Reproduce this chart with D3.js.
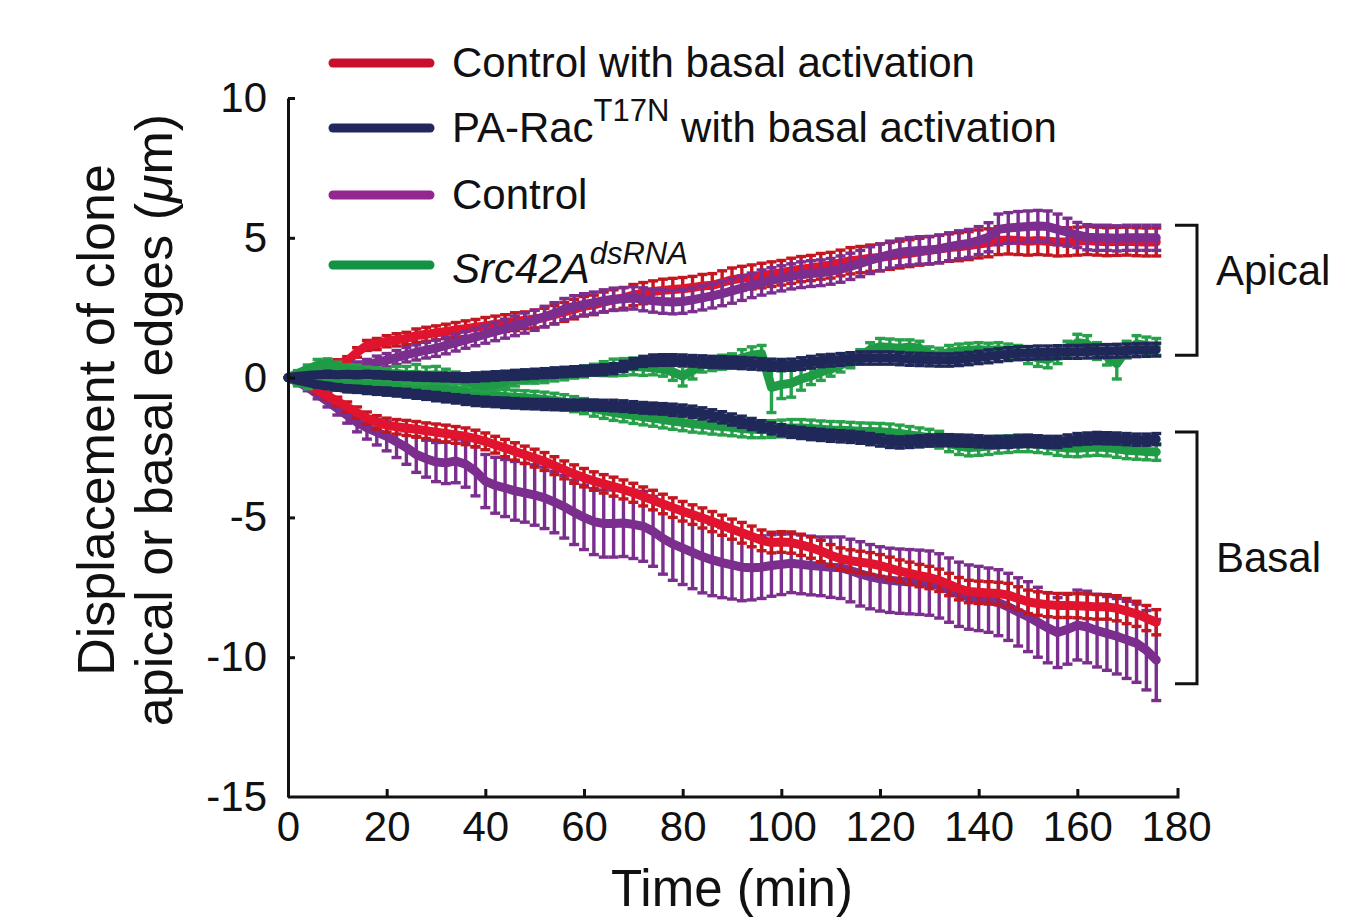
<!DOCTYPE html>
<html>
<head>
<meta charset="utf-8">
<script src="https://cdn.jsdelivr.net/npm/d3@7"></script>
<style>
  body { margin: 0; background: #fff; }
  svg { font-family: "Liberation Sans", Arial, sans-serif; }
</style>
</head>
<body>
<div id="chart"></div>
<script>
// time points (min)
var times = [
  0, 2, 4, 6, 8, 10, 12, 14, 16, 18,
  20, 22, 24, 26, 28, 30, 32, 34, 36, 38,
  40, 42, 44, 46, 48, 50, 52, 54, 56, 58,
  60, 62, 64, 66, 68, 70, 72, 74, 76, 78,
  80, 82, 84, 86, 88, 90, 92, 94, 96, 98,
  100, 102, 104, 106, 108, 110, 112, 114, 116, 118,
  120, 122, 124, 126, 128, 130, 132, 134, 136, 138,
  140, 142, 144, 146, 148, 150, 152, 154, 156, 158,
  160, 162, 164, 166, 168, 170, 172, 174, 176
];

// Control with basal activation
var redApical = [
  0, 0.1, 0.2, 0.3, 0.4, 0.5, 0.6, 0.9, 1.15, 1.2,
  1.3, 1.35, 1.4, 1.5, 1.55, 1.6, 1.65, 1.7, 1.75, 1.8,
  1.85, 1.9, 1.95, 2.0, 2.05, 2.1, 2.15, 2.25, 2.35, 2.45,
  2.55, 2.6, 2.7, 2.78, 2.85, 2.95, 3.02, 3.08, 3.12, 3.15,
  3.18, 3.22, 3.28, 3.3, 3.4, 3.5, 3.55, 3.6, 3.65, 3.7,
  3.75, 3.82, 3.88, 3.92, 3.98, 4.02, 4.1, 4.18, 4.22, 4.27,
  4.3, 4.35, 4.4, 4.45, 4.5, 4.55, 4.6, 4.65, 4.68, 4.72,
  4.78, 4.82, 4.9, 4.92, 4.9, 4.88, 4.9, 4.88, 4.85, 4.86,
  4.88, 4.9, 4.88, 4.86, 4.87, 4.88, 4.86, 4.85, 4.85
];
var redApicalErr = [
  0, 0.05, 0.08, 0.1, 0.12, 0.14, 0.15, 0.17, 0.18, 0.2,
  0.2, 0.22, 0.22, 0.24, 0.25, 0.25, 0.26, 0.27, 0.28, 0.28,
  0.3, 0.3, 0.3, 0.32, 0.3, 0.32, 0.33, 0.33, 0.34, 0.35,
  0.35, 0.35, 0.36, 0.36, 0.37, 0.38, 0.38, 0.38, 0.4, 0.4,
  0.4, 0.4, 0.41, 0.42, 0.42, 0.42, 0.43, 0.43, 0.44, 0.44,
  0.44, 0.45, 0.45, 0.45, 0.46, 0.46, 0.46, 0.47, 0.47, 0.47,
  0.48, 0.48, 0.48, 0.48, 0.48, 0.49, 0.49, 0.49, 0.5, 0.5,
  0.5, 0.5, 0.5, 0.5, 0.5, 0.5, 0.5, 0.5, 0.5, 0.5,
  0.5, 0.5, 0.5, 0.5, 0.5, 0.5, 0.5, 0.5, 0.5
];
var redBasal = [
  0, -0.1, -0.25, -0.45, -0.65, -0.85, -1.05, -1.25, -1.45, -1.6,
  -1.7, -1.76, -1.8, -1.85, -1.9, -1.95, -2.0, -2.05, -2.1, -2.18,
  -2.28, -2.4, -2.52, -2.64, -2.76, -2.88, -3.0, -3.15, -3.3, -3.45,
  -3.58, -3.7, -3.8, -3.9, -4.0, -4.12, -4.25, -4.38, -4.52, -4.65,
  -4.78, -4.9, -5.02, -5.15, -5.28, -5.42, -5.55, -5.68, -5.82, -5.9,
  -5.88, -5.9, -5.98, -6.08, -6.2, -6.35, -6.48, -6.55, -6.6, -6.65,
  -6.72, -6.82, -6.92, -7.0, -7.08, -7.15, -7.25, -7.4, -7.55, -7.65,
  -7.68, -7.7, -7.72, -7.78, -7.9, -8.02, -8.08, -8.12, -8.15, -8.15,
  -8.16, -8.18, -8.2, -8.2, -8.25, -8.35, -8.45, -8.6, -8.75
];
var redBasalErr = [
  0, 0.05, 0.08, 0.1, 0.12, 0.15, 0.18, 0.2, 0.22, 0.24,
  0.25, 0.26, 0.27, 0.28, 0.28, 0.29, 0.3, 0.3, 0.3, 0.3,
  0.3, 0.3, 0.31, 0.31, 0.31, 0.32, 0.32, 0.32, 0.32, 0.33,
  0.33, 0.33, 0.33, 0.34, 0.34, 0.34, 0.34, 0.35, 0.35, 0.35,
  0.35, 0.35, 0.36, 0.36, 0.36, 0.36, 0.37, 0.37, 0.37, 0.37,
  0.37, 0.38, 0.38, 0.38, 0.38, 0.38, 0.39, 0.39, 0.39, 0.39,
  0.39, 0.4, 0.4, 0.4, 0.4, 0.4, 0.4, 0.4, 0.4, 0.4,
  0.4, 0.4, 0.4, 0.42, 0.42, 0.42, 0.42, 0.43, 0.43, 0.43,
  0.43, 0.44, 0.44, 0.44, 0.45, 0.45, 0.45, 0.45, 0.45
];

// PA-Rac T17N with basal activation
var navyApical = [
  0, 0.05, 0.08, 0.1, 0.12, 0.1, 0.12, 0.1, 0.12, 0.1,
  0.08, 0.06, 0.05, 0.04, 0.03, 0.02, 0.02, 0.01, 0.0, 0.02,
  0.04, 0.06, 0.08, 0.1, 0.12, 0.14, 0.16, 0.18, 0.2, 0.22,
  0.24, 0.26, 0.28, 0.32, 0.4, 0.5, 0.58, 0.62, 0.63, 0.63,
  0.62, 0.6, 0.58, 0.56, 0.55, 0.54, 0.52, 0.5, 0.48, 0.46,
  0.45, 0.46, 0.5, 0.55, 0.6, 0.62, 0.65, 0.68, 0.7, 0.7,
  0.7, 0.7, 0.68, 0.66, 0.65, 0.64, 0.63, 0.63, 0.65, 0.68,
  0.72, 0.76, 0.8, 0.84, 0.87, 0.88, 0.9, 0.9, 0.91, 0.92,
  0.92, 0.93, 0.94, 0.95, 0.96, 0.97, 0.98, 0.99, 1.0
];
var navyApicalErr = [
  0, 0.03, 0.05, 0.06, 0.07, 0.08, 0.09, 0.1, 0.1, 0.11,
  0.11, 0.12, 0.12, 0.13, 0.13, 0.13, 0.14, 0.14, 0.14, 0.15,
  0.15, 0.15, 0.15, 0.16, 0.16, 0.16, 0.16, 0.17, 0.17, 0.17,
  0.17, 0.17, 0.18, 0.18, 0.18, 0.18, 0.18, 0.19, 0.19, 0.19,
  0.19, 0.19, 0.2, 0.2, 0.2, 0.2, 0.2, 0.2, 0.2, 0.2,
  0.2, 0.2, 0.21, 0.21, 0.21, 0.21, 0.21, 0.21, 0.22, 0.22,
  0.22, 0.22, 0.22, 0.22, 0.22, 0.22, 0.22, 0.22, 0.22, 0.22,
  0.22, 0.23, 0.23, 0.23, 0.23, 0.23, 0.23, 0.23, 0.23, 0.23,
  0.23, 0.23, 0.23, 0.23, 0.23, 0.23, 0.23, 0.23, 0.23
];
var navyBasal = [
  0, -0.1, -0.18, -0.25, -0.3, -0.35, -0.4, -0.42, -0.45, -0.48,
  -0.5, -0.53, -0.56, -0.6, -0.64, -0.68, -0.72, -0.76, -0.8, -0.84,
  -0.86, -0.88, -0.9, -0.92, -0.94, -0.95, -0.96, -0.97, -0.98, -0.98,
  -0.98, -0.98, -0.99, -1.0, -1.02, -1.05, -1.08, -1.1, -1.12, -1.15,
  -1.18, -1.22, -1.28, -1.35, -1.42, -1.5, -1.58, -1.66, -1.74, -1.82,
  -1.88, -1.94, -1.98, -2.02, -2.05, -2.08, -2.1, -2.12, -2.15, -2.2,
  -2.25, -2.3, -2.32, -2.3, -2.28, -2.25, -2.24, -2.24, -2.25, -2.26,
  -2.28, -2.3, -2.3, -2.3, -2.28, -2.27, -2.28, -2.3, -2.3, -2.25,
  -2.2, -2.18, -2.16, -2.17, -2.18, -2.2, -2.22, -2.22, -2.2
];
var navyBasalErr = [
  0, 0.04, 0.06, 0.08, 0.09, 0.1, 0.11, 0.11, 0.12, 0.12,
  0.13, 0.13, 0.14, 0.14, 0.14, 0.15, 0.15, 0.15, 0.16, 0.16,
  0.16, 0.16, 0.17, 0.17, 0.17, 0.17, 0.18, 0.18, 0.18, 0.18,
  0.18, 0.18, 0.18, 0.19, 0.19, 0.19, 0.19, 0.19, 0.19, 0.2,
  0.2, 0.2, 0.2, 0.2, 0.2, 0.2, 0.2, 0.2, 0.2, 0.2,
  0.2, 0.2, 0.2, 0.2, 0.2, 0.2, 0.2, 0.2, 0.2, 0.2,
  0.2, 0.2, 0.2, 0.2, 0.2, 0.2, 0.2, 0.2, 0.2, 0.2,
  0.2, 0.2, 0.2, 0.2, 0.2, 0.2, 0.2, 0.2, 0.2, 0.2,
  0.2, 0.2, 0.2, 0.2, 0.2, 0.2, 0.2, 0.2, 0.2
];

// Control
var purpleApical = [
  0, 0.05, 0.1, 0.15, 0.2, 0.25, 0.3, 0.38, 0.45, 0.55,
  0.62, 0.72, 0.82, 0.9, 0.98, 1.05, 1.15, 1.25, 1.35, 1.45,
  1.55, 1.65, 1.75, 1.85, 1.95, 2.05, 2.18, 2.3, 2.45, 2.55,
  2.62, 2.68, 2.75, 2.8, 2.82, 2.85, 2.8, 2.75, 2.72, 2.7,
  2.72, 2.78, 2.85, 2.92, 3.0, 3.1, 3.2, 3.3, 3.4, 3.48,
  3.55, 3.62, 3.68, 3.72, 3.75, 3.8, 3.88, 3.98, 4.08, 4.2,
  4.3, 4.4, 4.48, 4.52, 4.55, 4.56, 4.6, 4.68, 4.75, 4.8,
  4.9, 5.02, 5.3, 5.35, 5.38, 5.4, 5.42, 5.4, 5.3, 5.2,
  5.1, 5.02, 5.0, 5.0, 4.98, 5.0, 5.0, 5.0, 5.0
];
var purpleApicalErr = [
  0, 0.05, 0.08, 0.1, 0.12, 0.14, 0.16, 0.18, 0.2, 0.22,
  0.24, 0.25, 0.26, 0.27, 0.28, 0.29, 0.3, 0.3, 0.3, 0.31,
  0.32, 0.33, 0.34, 0.35, 0.36, 0.36, 0.37, 0.38, 0.38, 0.38,
  0.38, 0.38, 0.39, 0.4, 0.4, 0.4, 0.41, 0.41, 0.42, 0.42,
  0.42, 0.42, 0.43, 0.43, 0.43, 0.44, 0.44, 0.44, 0.45, 0.45,
  0.45, 0.45, 0.46, 0.46, 0.46, 0.46, 0.47, 0.47, 0.47, 0.48,
  0.48, 0.48, 0.48, 0.49, 0.49, 0.49, 0.5, 0.5, 0.5, 0.5,
  0.5, 0.52, 0.55, 0.55, 0.56, 0.56, 0.56, 0.56, 0.55, 0.5,
  0.45, 0.45, 0.45, 0.45, 0.45, 0.45, 0.45, 0.45, 0.45
];
var purpleBasal = [
  0, -0.15, -0.35, -0.6, -0.85, -1.1, -1.35, -1.6, -1.8, -1.95,
  -2.1, -2.3, -2.5, -2.75, -2.9, -3.02, -3.05, -2.98, -3.1, -3.35,
  -3.7, -3.85, -3.95, -4.05, -4.12, -4.2, -4.3, -4.45, -4.62, -4.82,
  -5.0, -5.15, -5.22, -5.22, -5.2, -5.25, -5.32, -5.5, -5.75, -5.95,
  -6.1, -6.25, -6.4, -6.52, -6.62, -6.7, -6.78, -6.8, -6.78, -6.72,
  -6.68, -6.64, -6.68, -6.72, -6.75, -6.78, -6.8, -6.9, -7.02, -7.12,
  -7.2, -7.25, -7.28, -7.3, -7.32, -7.35, -7.45, -7.6, -7.75, -7.85,
  -7.9, -7.96, -8.05, -8.2, -8.38, -8.55, -8.75, -8.95, -9.12, -9.0,
  -8.85, -8.92, -9.05, -9.15, -9.25, -9.38, -9.5, -9.75, -10.1
];
var purpleBasalErr = [
  0, 0.08, 0.12, 0.16, 0.2, 0.24, 0.28, 0.34, 0.4, 0.46,
  0.52, 0.56, 0.6, 0.64, 0.66, 0.7, 0.74, 0.78, 0.82, 0.88,
  0.95, 1.0, 1.02, 1.05, 1.05, 1.08, 1.1, 1.1, 1.12, 1.15,
  1.15, 1.18, 1.2, 1.2, 1.2, 1.22, 1.25, 1.25, 1.28, 1.3,
  1.3, 1.3, 1.3, 1.28, 1.25, 1.22, 1.2, 1.15, 1.12, 1.1,
  1.08, 1.05, 1.05, 1.05, 1.05, 1.08, 1.1, 1.12, 1.15, 1.15,
  1.15, 1.15, 1.15, 1.15, 1.15, 1.15, 1.15, 1.15, 1.15, 1.15,
  1.15, 1.15, 1.18, 1.2, 1.22, 1.25, 1.25, 1.25, 1.25, 1.25,
  1.25, 1.28, 1.3, 1.32, 1.35, 1.38, 1.4, 1.42, 1.45
];

// Src42A dsRNA
var greenApical = [
  0, 0.15, 0.3, 0.45, 0.52, 0.4, 0.3, 0.25, 0.18, 0.15,
  0.12, 0.15, 0.1, 0.12, 0.08, 0.1, 0.05, 0.0, -0.1, -0.25,
  -0.3, -0.25, -0.15, -0.1, -0.05, 0.0, 0.02, 0.08, 0.12, 0.18,
  0.22, 0.28, 0.32, 0.36, 0.38, 0.4, 0.38, 0.35, 0.3, 0.2,
  0.05, 0.25, 0.45, 0.5, 0.55, 0.6, 0.7, 0.8, 0.85, -0.35,
  -0.25, -0.2, -0.05, 0.05, 0.2, 0.3, 0.45, 0.6, 0.75, 1.0,
  1.1, 1.08, 1.05, 1.1, 1.05, 0.85, 0.8, 0.9, 0.95, 0.98,
  1.0, 0.98, 1.0, 0.95, 0.9, 0.8, 0.7, 0.65, 0.8, 1.0,
  1.25, 1.2, 0.95, 0.75, 0.5, 1.0, 1.2, 1.15, 1.1
];
var greenApicalErr = [
  0, 0.1, 0.15, 0.2, 0.15, 0.15, 0.15, 0.2, 0.2, 0.2,
  0.2, 0.25, 0.3, 0.35, 0.3, 0.3, 0.25, 0.2, 0.2, 0.2,
  0.2, 0.2, 0.2, 0.2, 0.15, 0.2, 0.2, 0.2, 0.2, 0.2,
  0.2, 0.2, 0.25, 0.3, 0.3, 0.3, 0.3, 0.25, 0.25, 0.3,
  0.35, 0.3, 0.25, 0.25, 0.25, 0.25, 0.3, 0.3, 0.3, 0.9,
  0.5, 0.5, 0.4, 0.3, 0.3, 0.25, 0.25, 0.25, 0.25, 0.25,
  0.3, 0.3, 0.3, 0.25, 0.25, 0.25, 0.25, 0.25, 0.25, 0.25,
  0.25, 0.25, 0.25, 0.25, 0.25, 0.3, 0.3, 0.3, 0.3, 0.3,
  0.3, 0.3, 0.3, 0.3, 0.55, 0.3, 0.3, 0.3, 0.3
];
var greenBasal = [
  0, -0.15, -0.2, -0.15, -0.1, -0.15, -0.2, -0.22, -0.25, -0.28,
  -0.3, -0.32, -0.33, -0.35, -0.38, -0.4, -0.42, -0.45, -0.5, -0.55,
  -0.6, -0.65, -0.68, -0.7, -0.72, -0.75, -0.78, -0.82, -0.88, -0.95,
  -1.02, -1.1, -1.18, -1.25, -1.3, -1.35, -1.4, -1.45, -1.5, -1.55,
  -1.6, -1.65, -1.68, -1.72, -1.75, -1.78, -1.82, -1.85, -1.85, -1.84,
  -1.82, -1.8, -1.8, -1.82, -1.85, -1.87, -1.88, -1.9, -1.92, -1.93,
  -1.94, -1.96, -2.0, -2.05, -2.1, -2.15, -2.22, -2.35, -2.45, -2.5,
  -2.48, -2.45, -2.4, -2.38, -2.35, -2.35, -2.38, -2.42, -2.48, -2.52,
  -2.53, -2.5, -2.48, -2.5, -2.55, -2.6, -2.62, -2.64, -2.66
];
var greenBasalErr = [
  0, 0.15, 0.2, 0.15, 0.12, 0.12, 0.13, 0.14, 0.15, 0.16,
  0.17, 0.18, 0.19, 0.2, 0.2, 0.21, 0.22, 0.22, 0.23, 0.23,
  0.24, 0.24, 0.25, 0.25, 0.25, 0.26, 0.26, 0.26, 0.27, 0.27,
  0.27, 0.28, 0.28, 0.28, 0.28, 0.29, 0.29, 0.29, 0.3, 0.3,
  0.3, 0.3, 0.3, 0.3, 0.3, 0.3, 0.3, 0.3, 0.3, 0.3,
  0.3, 0.3, 0.3, 0.3, 0.3, 0.3, 0.3, 0.3, 0.3, 0.3,
  0.3, 0.3, 0.3, 0.3, 0.3, 0.3, 0.3, 0.3, 0.3, 0.3,
  0.3, 0.3, 0.3, 0.3, 0.3, 0.3, 0.3, 0.3, 0.3, 0.3,
  0.3, 0.3, 0.3, 0.3, 0.3, 0.3, 0.3, 0.3, 0.3
];

var xTicks = [0, 20, 40, 60, 80, 100, 120, 140, 160, 180];
var yTicks = [-15, -10, -5, 0, 5, 10];

// colours per condition
var colors = {
  red: { line: "#e1142f", err: "#c4161e", legend: "#c8102e" },
  navy: { line: "#1f2859", err: "#1f2859", legend: "#23275e" },
  purple: { line: "#7b2e8e", err: "#7b2e8e", legend: "#93278f" },
  green: { line: "#1f9a45", err: "#27a24b", legend: "#139244" }
};

// draw order: later ones on top
var series = [
  { key: "purple", v: purpleBasal, e: purpleBasalErr },
  { key: "red", v: redBasal, e: redBasalErr },
  { key: "red", v: redApical, e: redApicalErr },
  { key: "purple", v: purpleApical, e: purpleApicalErr },
  { key: "green", v: greenBasal, e: greenBasalErr },
  { key: "green", v: greenApical, e: greenApicalErr },
  { key: "navy", v: navyBasal, e: navyBasalErr },
  { key: "navy", v: navyApical, e: navyApicalErr }
];

var W = 1349, H = 922;
var svg = d3.select("#chart").append("svg")
  .attr("width", W).attr("height", H);

var x = d3.scaleLinear().domain([0, 180]).range([288, 1176]);
var y = d3.scaleLinear().domain([-15, 10]).range([797, 98]);

// series
var line = d3.line()
  .x(function(d) { return x(d.t); })
  .y(function(d) { return y(d.v); });

series.forEach(function(s) {
  var c = colors[s.key];
  var pts = times.map(function(t, i) { return { t: t, v: s.v[i], e: s.e[i] }; });
  var g = svg.append("g");
  var bars = g.selectAll("g.eb").data(pts.filter(function(d) { return d.e > 0; }))
    .enter().append("g").attr("class", "eb")
    .attr("stroke", c.err).attr("stroke-width", 3.4);
  bars.append("line")
    .attr("x1", function(d) { return x(d.t); }).attr("x2", function(d) { return x(d.t); })
    .attr("y1", function(d) { return y(d.v - d.e); }).attr("y2", function(d) { return y(d.v + d.e); });
  bars.append("line")
    .attr("x1", function(d) { return x(d.t) - 5; }).attr("x2", function(d) { return x(d.t) + 5; })
    .attr("y1", function(d) { return y(d.v - d.e); }).attr("y2", function(d) { return y(d.v - d.e); });
  bars.append("line")
    .attr("x1", function(d) { return x(d.t) - 5; }).attr("x2", function(d) { return x(d.t) + 5; })
    .attr("y1", function(d) { return y(d.v + d.e); }).attr("y2", function(d) { return y(d.v + d.e); });
  g.append("path").datum(pts)
    .attr("d", line)
    .attr("fill", "none")
    .attr("stroke", c.line)
    .attr("stroke-width", 9)
    .attr("stroke-linejoin", "round")
    .attr("stroke-linecap", "round");
});

// axes
var yAxis = svg.append("g")
  .attr("transform", "translate(" + x(0) + ",0)")
  .call(d3.axisLeft(y).tickValues(yTicks).tickSize(-7).tickSizeOuter(0).tickPadding(21)
    .tickFormat(function(d) { return String(d); }));
var xAxis = svg.append("g")
  .attr("transform", "translate(0," + y(-15) + ")")
  .call(d3.axisBottom(x).tickValues(xTicks).tickSize(-8).tickSizeOuter(0).tickPadding(14)
    .tickFormat(function(d) { return String(d); }));
[yAxis, xAxis].forEach(function(a) {
  a.select(".domain").attr("stroke", "#111").attr("stroke-width", 3);
  a.selectAll(".tick line").attr("stroke", "#111").attr("stroke-width", 3);
  a.selectAll(".tick text")
    .attr("fill", "#111")
    .style("font-size", "42px")
    .style("font-family", "'Liberation Sans', Arial, sans-serif");
});
xAxis.selectAll(".tick").filter(function(d) { return d === 180; }).select("line").remove();
xAxis.select(".domain").attr("d", "M" + x(0) + ",0H" + (x(180) + 2) + "V-9");
yAxis.selectAll(".tick").filter(function(d) { return d === -15; }).select("line").remove();

// axis titles
svg.append("text")
  .attr("x", x(90)).attr("y", 906)
  .attr("text-anchor", "middle")
  .style("font-size", "51px")
  .attr("fill", "#111")
  .text("Time (min)");

var yTitle = svg.append("g")
  .attr("transform", "translate(0,420) rotate(-90)")
  .attr("fill", "#111")
  .style("font-size", "52px");
yTitle.append("text")
  .attr("x", 0).attr("y", 114)
  .attr("text-anchor", "middle")
  .text("Displacement of clone");
var t2 = yTitle.append("text")
  .attr("x", 0).attr("y", 172)
  .attr("text-anchor", "middle");
t2.append("tspan").text("apical or basal edges (");
t2.append("tspan").style("font-style", "italic").text("\u03bc");
t2.append("tspan").text("m)");

// legend
var legendRows = [
  { key: "red", y: 63 },
  { key: "navy", y: 128 },
  { key: "purple", y: 195 },
  { key: "green", y: 265 }
];
var lg = svg.append("g");
lg.selectAll("line").data(legendRows).enter().append("line")
  .attr("x1", 333).attr("x2", 430)
  .attr("y1", function(d) { return d.y; }).attr("y2", function(d) { return d.y; })
  .attr("stroke", function(d) { return colors[d.key].legend; })
  .attr("stroke-width", 9)
  .attr("stroke-linecap", "round");

var lt = lg.append("g").attr("fill", "#111").style("font-size", "42px");
lt.append("text").attr("x", 452).attr("y", 77).text("Control with basal activation");
var l2 = lt.append("text").attr("x", 452).attr("y", 142);
l2.append("tspan").text("PA-Rac");
l2.append("tspan").attr("dy", -21).style("font-size", "31px").text("T17N");
l2.append("tspan").attr("dy", 21).text(" with basal activation");
lt.append("text").attr("x", 452).attr("y", 209).text("Control");
var l4 = lt.append("text").attr("x", 452).attr("y", 283).style("font-style", "italic");
l4.append("tspan").text("Src42A");
l4.append("tspan").attr("dy", -19).style("font-size", "31px").text("dsRNA");

// brackets
var brackets = [
  { top: 5.45, bottom: 0.8, label: "Apical", ty: 285 },
  { top: -1.95, bottom: -10.95, label: "Basal", ty: 572 }
];
brackets.forEach(function(b) {
  svg.append("path")
    .attr("d", "M1175," + y(b.top) + "H1197V" + y(b.bottom) + "H1175")
    .attr("fill", "none")
    .attr("stroke", "#111")
    .attr("stroke-width", 3);
  svg.append("text")
    .attr("x", 1216).attr("y", b.ty)
    .attr("fill", "#111")
    .style("font-size", "42px")
    .text(b.label);
});
</script>
</body>
</html>
